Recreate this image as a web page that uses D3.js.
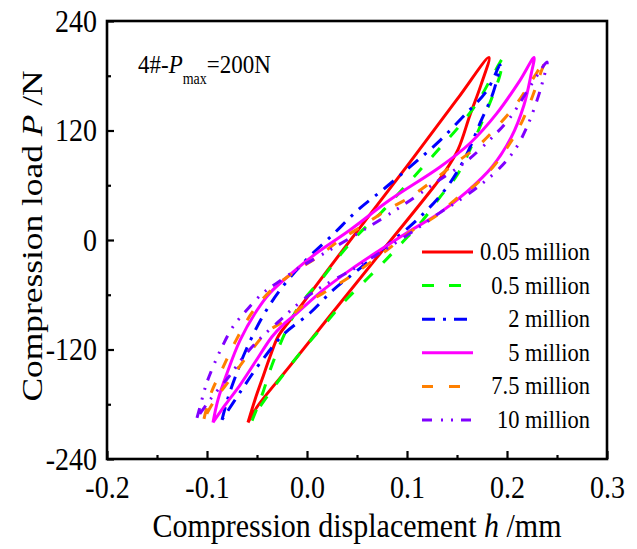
<!DOCTYPE html>
<html>
<head>
<meta charset="utf-8">
<script src="https://cdn.jsdelivr.net/npm/d3@7"></script>
<style>
  html, body { margin: 0; padding: 0; background: #fff; }
  svg { display: block; }
  text { font-family: "Liberation Serif", "Times New Roman", serif; fill: #000; }
</style>
</head>
<body>
<svg id="chart" width="637" height="549"></svg>
<script>
// ---------------- DATA ----------------
const seriesNames = ["0.05 million", "0.5 million", "2 million", "5 million", "7.5 million", "10 million"];
const xTicks = [-0.2, -0.1, 0.0, 0.1, 0.2, 0.3];
const xMinorTicks = [-0.15, -0.05, 0.05, 0.15, 0.25];
const yTicks = [-240, -120, 0, 120, 240];
const yMinorTicks = [-180, -60, 60, 180];

// each loop: bottom tip -> upper branch -> top tip -> lower branch -> bottom tip
const h_005 = [-0.059,-0.052,-0.045,-0.037,-0.029,-0.017,0.040,0.100,0.150,0.182,
               0.174,0.163,0.151,0.138,0.128,0.073,0.023,-0.017,-0.050,-0.059];
const p_005 = [-200,-175,-153,-128,-106,-88,-5,81,154,200,
               170,137,99,75,60,-15,-83,-138,-183,-200];

const h_05 = [-0.055,-0.045,-0.035,-0.022,-0.007,0.016,0.035,0.053,0.075,0.095,0.115,0.133,0.151,0.170,0.186,0.196,
              0.193,0.186,0.176,0.163,0.150,0.133,0.116,0.095,0.076,0.056,0.036,0.018,-0.004,-0.022,-0.039,-0.049,-0.055];
const p_05 = [-198,-170,-137,-102,-71,-41,-14,8,31,55,79,101,123,150,181,199,
              181,159,132,99,71,47,22,-3,-25,-47,-69,-92,-120,-145,-170,-186,-198];

const h_2 = [-0.085,-0.079,-0.072,-0.062,-0.045,-0.027,-0.002,0.025,0.051,0.078,0.105,0.131,0.156,0.180,0.193,
             0.186,0.173,0.158,0.138,0.110,0.081,0.053,0.026,0.003,-0.024,-0.047,-0.067,-0.085];
const p_2 = [-197,-173,-151,-123,-85,-55,-23,5,33,57,82,107,135,164,192,
             161,128,90,55,22,-5,-31,-55,-80,-104,-135,-167,-197];

const h_5 = [-0.094,-0.089,-0.080,-0.067,-0.050,-0.037,-0.017,0.010,0.043,0.083,0.133,0.163,0.190,0.213,0.227,
             0.224,0.217,0.204,0.185,0.160,0.133,0.100,0.073,0.043,0.016,-0.010,-0.024,-0.035,-0.052,-0.067,-0.082,-0.094];
const p_5 = [-200,-175,-146,-110,-77,-58,-38,-14,11,44,80,106,139,175,200,
             181,148,112,80,53,30,8,-11,-33,-55,-80,-93,-106,-134,-159,-181,-200];

const h_75 = [-0.103,-0.096,-0.085,-0.071,-0.054,-0.034,-0.010,0.010,0.033,0.056,0.080,0.103,0.126,0.148,0.170,0.190,0.210,0.225,0.238,
              0.233,0.226,0.216,0.203,0.186,0.168,0.148,0.130,0.106,0.080,0.050,0.026,0.000,-0.022,-0.040,-0.057,-0.077,-0.092,-0.103];
const p_75 = [-196,-168,-142,-110,-78,-53,-33,-19,0,16,33,47,65,84,102,124,150,175,197,
              181,159,132,106,80,60,44,27,11,-11,-35,-52,-69,-88,-101,-123,-153,-175,-196];

const h_10 = [-0.110,-0.107,-0.101,-0.094,-0.084,-0.074,-0.058,-0.044,-0.030,-0.007,0.018,0.043,0.073,0.100,0.130,0.158,0.183,0.203,0.223,0.240,
              0.236,0.230,0.220,0.208,0.191,0.173,0.153,0.133,0.120,0.093,0.070,0.048,0.028,0.008,-0.010,-0.027,-0.045,-0.062,-0.079,-0.097,-0.110];
const p_10 = [-195,-183,-159,-139,-115,-95,-74,-58,-47,-30,-14,2,22,41,64,85,110,134,168,195,
              175,153,124,99,77,60,44,30,20,0,-16,-31,-43,-56,-71,-88,-106,-126,-151,-175,-195];

const seriesH = [h_005, h_05, h_2, h_5, h_75, h_10];
const seriesP = [p_005, p_05, p_2, p_5, p_75, p_10];

// ---------------- STYLE ----------------
const colors = ["#ff0000", "#00ff00", "#0000ff", "#ff00ff", "#ff8000", "#8000ff"];
const dashes = [null, "12,15", "13,8,3,8", null, "11,16", "10,9,2,8,2,8"];

const svg = d3.select("#chart");
const L = 107, R = 607, T = 21, B = 459;
const x = d3.scaleLinear().domain([-0.2, 0.3]).range([L, R]);
const y = d3.scaleLinear().domain([-240, 240]).range([B, T]);
const vs = 1.12; // vertical stretch of text in the reference

// curves
const line = d3.line().x(d => x(d[0])).y(d => y(d[1])).curve(d3.curveCatmullRom.alpha(0.5));
const gCurves = svg.append("g");
seriesH.forEach((hs, i) => {
  const pts = hs.map((h, j) => [h, seriesP[i][j]]);
  gCurves.append("path")
    .attr("d", line(pts))
    .attr("fill", "none")
    .attr("stroke", colors[i])
    .attr("stroke-width", 3)
    .attr("stroke-dasharray", dashes[i]);
});

// axes
const fmtX = d => d.toFixed(1);
const fmtY = d => String(d);
const gx = svg.append("g").attr("transform", `translate(0,${B})`)
  .call(d3.axisBottom(x).tickValues(xTicks).tickFormat(fmtX).tickSize(-8).tickPadding(15));
const gxm = svg.append("g").attr("transform", `translate(0,${B})`)
  .call(d3.axisBottom(x).tickValues(xMinorTicks).tickFormat("").tickSize(-4));
const gy = svg.append("g").attr("transform", `translate(${L},0)`)
  .call(d3.axisLeft(y).tickValues(yTicks).tickFormat(fmtY).tickSize(-7).tickPadding(10));
const gym = svg.append("g").attr("transform", `translate(${L},0)`)
  .call(d3.axisLeft(y).tickValues(yMinorTicks).tickFormat("").tickSize(-4));
[gx, gxm, gy, gym].forEach(g => {
  g.select(".domain").remove();
  g.selectAll(".tick line").attr("stroke", "#000").attr("stroke-width", 2.2);
  g.selectAll(".tick text")
    .style("font-family", '"Liberation Serif", "Times New Roman", serif')
    .style("font-size", "28px").attr("fill", "#000")
    .attr("transform", `scale(1,${vs})`);
});

// frame
svg.append("rect").attr("x", L).attr("y", T).attr("width", R - L).attr("height", B - T)
  .attr("fill", "none").attr("stroke", "#000").attr("stroke-width", 2.6);

// axis titles
const xt = svg.append("text").attr("transform", `translate(${(L + R) / 2},537) scale(1,${vs})`)
  .attr("text-anchor", "middle").style("font-size", "30px");
xt.append("tspan").text("Compression displacement ");
xt.append("tspan").style("font-style", "italic").text("h");
xt.append("tspan").text(" /mm");

const yt = svg.append("text").attr("transform", `translate(42,236) rotate(-90) scale(1.18,1)`)
  .attr("text-anchor", "middle").style("font-size", "30px");
yt.append("tspan").text("Compression load ");
yt.append("tspan").style("font-style", "italic").text("P");
yt.append("tspan").text(" /N");

// annotation
const an = svg.append("text").attr("transform", `translate(138,73) scale(1,${vs})`).style("font-size", "23px");
an.append("tspan").text("4#-");
an.append("tspan").style("font-style", "italic").text("P");
an.append("tspan").attr("dy", 10).style("font-size", "14px").text("max");
an.append("tspan").attr("dy", -10).text("=200N");

// legend
const legY0 = 252, legDy = 33.6;
seriesNames.forEach((name, i) => {
  const yy = legY0 + i * legDy;
  svg.append("line").attr("x1", 422).attr("x2", 473).attr("y1", yy).attr("y2", yy)
    .attr("stroke", colors[i]).attr("stroke-width", 3).attr("stroke-dasharray", dashes[i]);
  svg.append("text").attr("transform", `translate(590,${yy + 8}) scale(1,${vs})`)
    .attr("text-anchor", "end").style("font-size", "22.5px").text(name);
});
</script>
</body>
</html>
